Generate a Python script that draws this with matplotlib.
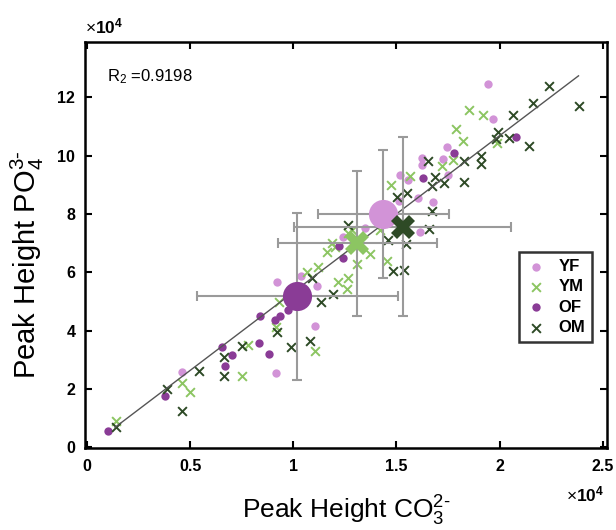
import matplotlib
matplotlib.use("Agg")
import matplotlib.pyplot as plt
from matplotlib.ticker import FuncFormatter, MultipleLocator
import numpy as np

plt.rcParams["font.family"] = ["Liberation Sans", "DejaVu Sans"]
plt.rcParams["mathtext.fontset"] = "custom"
plt.rcParams["mathtext.rm"] = "Liberation Sans"
plt.rcParams["mathtext.it"] = "Liberation Sans:italic"
plt.rcParams["mathtext.bf"] = "Liberation Sans:bold"
plt.rcParams["mathtext.default"] = "regular"

# ---- individual samples (CO3 peak height, PO4 peak height) ----
yf_x = [4610, 9170, 9220, 10390, 11160, 11070, 12430, 13490, 15190, 15580, 15140,
        16070, 16160, 16790, 16260, 16260, 17280, 17470, 17520, 19460, 19660]
yf_y = [25690, 25350, 56510, 58570, 55140, 41440, 72270, 75350, 93500, 91790, 84600,
        85630, 73980, 84260, 99330, 96930, 98980, 103090, 93500, 124670, 112680]

of_x = [1020, 3790, 6550, 7040, 6700, 8350, 8830, 8400, 9130, 9370, 9760,
        12230, 12430, 16310, 17770, 20820]
of_y = [5480, 17470, 34250, 31510, 27740, 35620, 31850, 44870, 43500, 44870, 46920,
        69180, 64730, 92480, 101040, 106520]

ym_x = [1410, 4610, 5000, 7520, 7820, 9170, 9320, 11070, 10680, 11210, 11650, 11890,
        12040, 12670, 12180, 12620, 12670, 13110, 13740, 14560, 12860, 14220, 14760,
        15680, 17230, 17720, 17910, 18250, 18540, 19220, 19900]
ym_y = [8910, 21920, 18840, 24320, 34940, 41100, 49660, 32880, 59940, 61650, 66790, 70210,
        68500, 73640, 56510, 54120, 57880, 62680, 66100, 63710, 74670, 74670, 90080,
        93160, 96590, 98640, 109260, 105150, 115770, 114050, 104460]

om_x = [1410, 3880, 4610, 5440, 6650, 6650, 7520, 9220, 9900, 10820, 10920, 11360,
        11940, 12670, 14610, 15480, 14850, 15390, 15050, 15530, 16600, 16750, 16750,
        16890, 16550, 17330, 18300, 18300, 19120, 19120, 19950, 19850, 20440, 20630,
        21410, 21600, 22380, 23830]
om_y = [6850, 19870, 12330, 26030, 30830, 24320, 34590, 39390, 34250, 36300, 57880, 49660,
        52400, 76380, 71240, 69530, 60280, 60620, 85970, 87340, 75010, 81170, 89740,
        92820, 98300, 90770, 91110, 98300, 100010, 97270, 108230, 105830, 106180, 114050,
        103440, 118160, 123990, 117140]

# ---- group means with standard deviations ----
groups = ["YF", "YM", "OF", "OM"]
mean_x = [14370, 13100, 10200, 15300]
mean_y = [80100, 69900, 51700, 75700]
sd_x = [3180, 3860, 4880, 5270]
sd_y = [21900, 24800, 28600, 30800]

# ---- regression line ----
fit_x = [1360, 23830]
fit_y = [6800, 127400]
r2_text = "R$_2$ =0.9198"

colors = {"YF": "#D293D7", "YM": "#8CC562", "OF": "#8A3C96", "OM": "#2E4A26"}

fig = plt.figure(figsize=(6.16, 5.30), dpi=100)
ax = fig.add_axes([0.138, 0.1547, 0.847, 0.766])

ax.scatter(yf_x, yf_y, s=36, marker="o", color=colors["YF"], linewidths=0, label="YF", zorder=3)
ax.scatter(ym_x, ym_y, s=40, marker="x", color=colors["YM"], linewidths=1.4, label="YM", zorder=3)
ax.scatter(of_x, of_y, s=36, marker="o", color=colors["OF"], linewidths=0, label="OF", zorder=3)
ax.scatter(om_x, om_y, s=40, marker="x", color=colors["OM"], linewidths=1.4, label="OM", zorder=3)

ax.plot(fit_x, fit_y, color="#555555", linewidth=1.0, zorder=4)

mean_markers = {"YF": "o", "YM": "X", "OF": "o", "OM": "X"}
mean_sizes = {"YF": 21, "YM": 17, "OF": 21, "OM": 17}
for g, mx, my, ex, ey in zip(groups, mean_x, mean_y, sd_x, sd_y):
    ax.errorbar(mx, my, xerr=ex, yerr=ey, fmt="none", ecolor="#9A9A9A",
                elinewidth=1.5, capsize=3.5, capthick=1.5, zorder=5)
    ax.plot(mx, my, marker=mean_markers[g], markersize=mean_sizes[g], color=colors[g],
            markeredgewidth=0, linestyle="none", zorder=6)

ax.set_xlim(-100, 25200)
ax.set_ylim(-300, 139000)
ax.xaxis.set_major_locator(MultipleLocator(5000))
ax.yaxis.set_major_locator(MultipleLocator(20000))
ax.xaxis.set_major_formatter(FuncFormatter(lambda v, p: "%g" % (v / 1e4)))
ax.yaxis.set_major_formatter(FuncFormatter(lambda v, p: "%g" % (v / 1e4)))

ax.tick_params(axis="both", which="both", direction="in", top=True, right=True,
               length=5, width=1.5, labelsize=11.5)
ax.tick_params(axis="x", pad=8)
ax.tick_params(axis="y", pad=7)
for lab in ax.get_xticklabels() + ax.get_yticklabels():
    lab.set_fontweight("bold")
for sp in ax.spines.values():
    sp.set_linewidth(1.8)

ax.text(0.0, 1.015, "×$\\mathbf{10^{4}}$", transform=ax.transAxes, fontsize=12.5,
        ha="left", va="bottom")
ax.text(0.922, -0.09, "×$\\mathbf{10^{4}}$", transform=ax.transAxes, fontsize=12.5,
        ha="left", va="top")

ax.text(0.042, 0.915, r2_text, transform=ax.transAxes, fontsize=12, ha="left", va="center")

ax.set_xlabel("Peak Height CO$_3^{2\u2010}$", fontsize=19, labelpad=14)
ax.set_ylabel("Peak Height PO$_4^{3\u2010}$", fontsize=21)
ax.yaxis.set_label_coords(-0.075, 0.45)

leg = ax.legend(loc="upper right", bbox_to_anchor=(0.972, 0.482), frameon=True,
                fancybox=False, edgecolor="black", prop={"weight": "bold", "size": 12},
                handletextpad=0.7, borderpad=0.4, labelspacing=0.32, handlelength=1.3,
                borderaxespad=0)
leg.get_frame().set_linewidth(1.8)

fig.savefig("out.png", dpi=100)
